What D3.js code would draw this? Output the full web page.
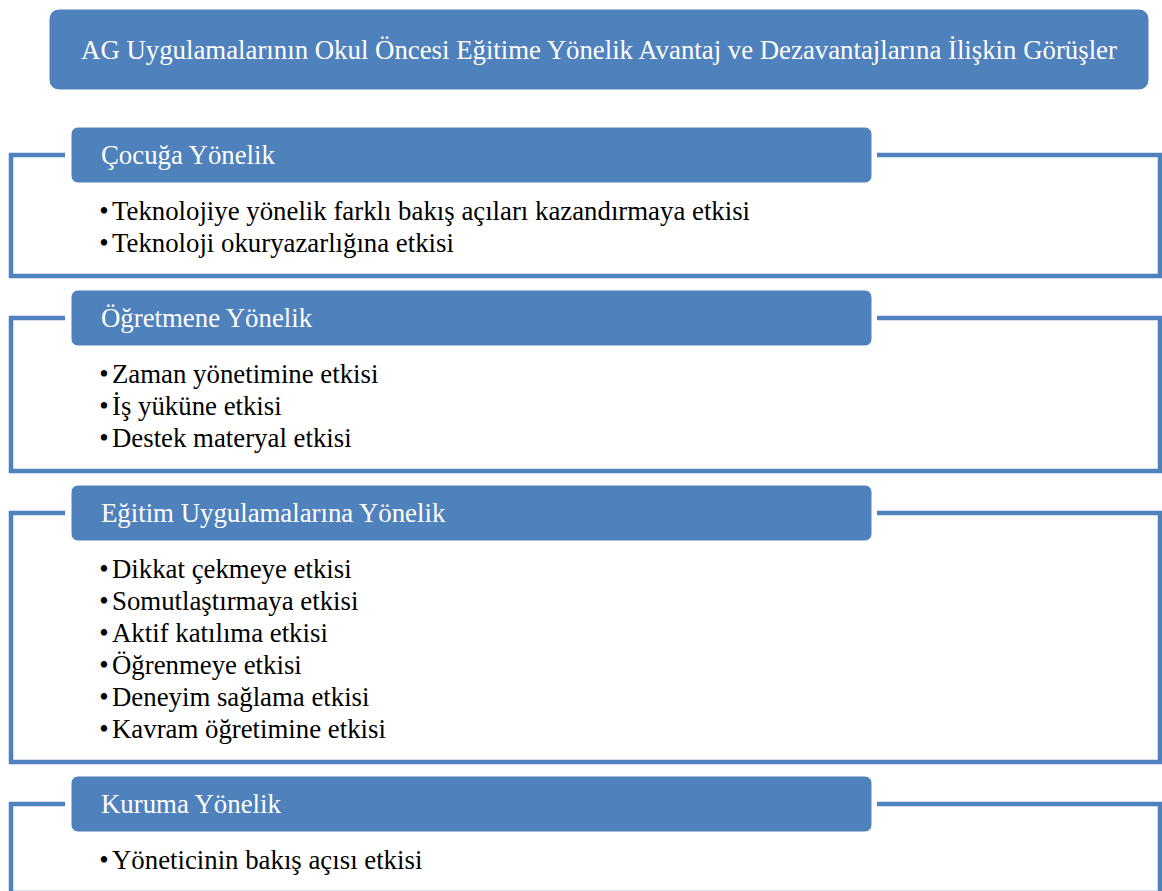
<!DOCTYPE html>
<html>
<head>
<meta charset="utf-8">
<script src="https://cdn.jsdelivr.net/npm/d3@7"></script>
<style>
  html, body { margin: 0; padding: 0; background: #fff; }
  svg { display: block; }
</style>
</head>
<body>
<div id="chart"></div>
<script>
const titleText = "AG Uygulamalarının Okul Öncesi Eğitime Yönelik Avantaj ve Dezavantajlarına İlişkin Görüşler";

const categories = [
  "Çocuğa Yönelik",
  "Öğretmene Yönelik",
  "Eğitim Uygulamalarına Yönelik",
  "Kuruma Yönelik"
];

const childItems = [
  "Teknolojiye yönelik farklı bakış açıları kazandırmaya etkisi",
  "Teknoloji okuryazarlığına etkisi"
];
const teacherItems = [
  "Zaman yönetimine etkisi",
  "İş yüküne etkisi",
  "Destek materyal etkisi"
];
const practiceItems = [
  "Dikkat çekmeye etkisi",
  "Somutlaştırmaya etkisi",
  "Aktif katılıma etkisi",
  "Öğrenmeye etkisi",
  "Deneyim sağlama etkisi",
  "Kavram öğretimine etkisi"
];
const institutionItems = [
  "Yöneticinin bakış açısı etkisi"
];

const itemLists = [childItems, teacherItems, practiceItems, institutionItems];

class ThemeDiagram {
  constructor(args) {
    this.args = args;
  }

  render(targetElementSelector) {
    const targetElement = d3.select(targetElementSelector);
    targetElement.selectAll('svg').remove();

    const width = 1162;
    const height = 891;
    const blue = '#4f81bd';
    const font = '"Liberation Serif", "Times New Roman", serif';
    const fontSize = 26.8;

    const svg = targetElement.append('svg')
      .attr('width', width)
      .attr('height', height);

    // vertical layout: header box, then bullet lines, then frame bottom
    const headerH = 56;
    const firstLine = 37;   // header bottom -> first baseline
    const lineH = 32;
    const frameTail = 24;   // last baseline -> frame bottom
    const gap = 14;         // frame bottom -> next header top

    const sections = [];
    let top = 127;
    this.args.categories.forEach(function(name, i) {
      const items = itemLists[i];
      const headerBottom = top + headerH;
      const lines = items.map(function(t, j) { return {text: t, y: headerBottom + firstLine + j * lineH}; });
      const frameBottom = lines[lines.length - 1].y + frameTail;
      sections.push({name: name, top: top, mid: top + headerH / 2, bottom: headerBottom, lines: lines, frameBottom: frameBottom});
      top = frameBottom + gap;
    });

    // x positions
    const x = d3.scaleLinear().domain([0, 1]).range([11, 1160]);
    const headerX0 = 71, headerX1 = 872;

    // title box
    svg.append('rect')
      .attr('x', 49).attr('y', 9)
      .attr('width', 1100).attr('height', 81)
      .attr('rx', 10).attr('ry', 10)
      .attr('fill', blue)
      .attr('stroke', '#fff').attr('stroke-width', 1);

    svg.append('text')
      .attr('x', 599).attr('y', 58.5)
      .attr('text-anchor', 'middle')
      .attr('font-family', font)
      .attr('font-size', fontSize)
      .attr('fill', '#fff')
      .text(this.args.title);

    const g = svg.selectAll('g.section')
      .data(sections)
      .enter().append('g')
      .attr('class', 'section');

    // frame
    g.append('path')
      .attr('fill', 'none')
      .attr('stroke', blue)
      .attr('stroke-width', 4.5)
      .attr('d', function(d) {
        const p = d3.path();
        p.moveTo(headerX0 - 6, d.mid);
        p.lineTo(x(0), d.mid);
        p.lineTo(x(0), d.frameBottom);
        p.lineTo(x(1), d.frameBottom);
        p.lineTo(x(1), d.mid);
        p.lineTo(headerX1 + 5, d.mid);
        return p.toString();
      });

    // header boxes
    g.append('rect')
      .attr('x', headerX0)
      .attr('y', function(d) { return d.top; })
      .attr('width', headerX1 - headerX0)
      .attr('height', headerH)
      .attr('rx', 7).attr('ry', 7)
      .attr('fill', blue)
      .attr('stroke', '#fff').attr('stroke-width', 1);

    g.append('text')
      .attr('x', 101)
      .attr('y', function(d) { return d.mid + 8.5; })
      .attr('font-family', font)
      .attr('font-size', fontSize)
      .attr('fill', '#fff')
      .text(function(d) { return d.name; });

    // bullet lines
    const line = g.selectAll('g.line')
      .data(function(d) { return d.lines; })
      .enter().append('g')
      .attr('class', 'line');

    line.append('text')
      .attr('x', 104)
      .attr('y', function(d) { return d.y; })
      .attr('text-anchor', 'middle')
      .attr('font-family', font)
      .attr('font-size', fontSize)
      .attr('fill', '#000')
      .text('•');

    line.append('text')
      .attr('x', 112)
      .attr('y', function(d) { return d.y; })
      .attr('font-family', font)
      .attr('font-size', fontSize)
      .attr('fill', '#000')
      .text(function(d) { return d.text; });
  }
}

new ThemeDiagram({title: titleText, categories: categories}).render('#chart');
</script>
</body>
</html>
